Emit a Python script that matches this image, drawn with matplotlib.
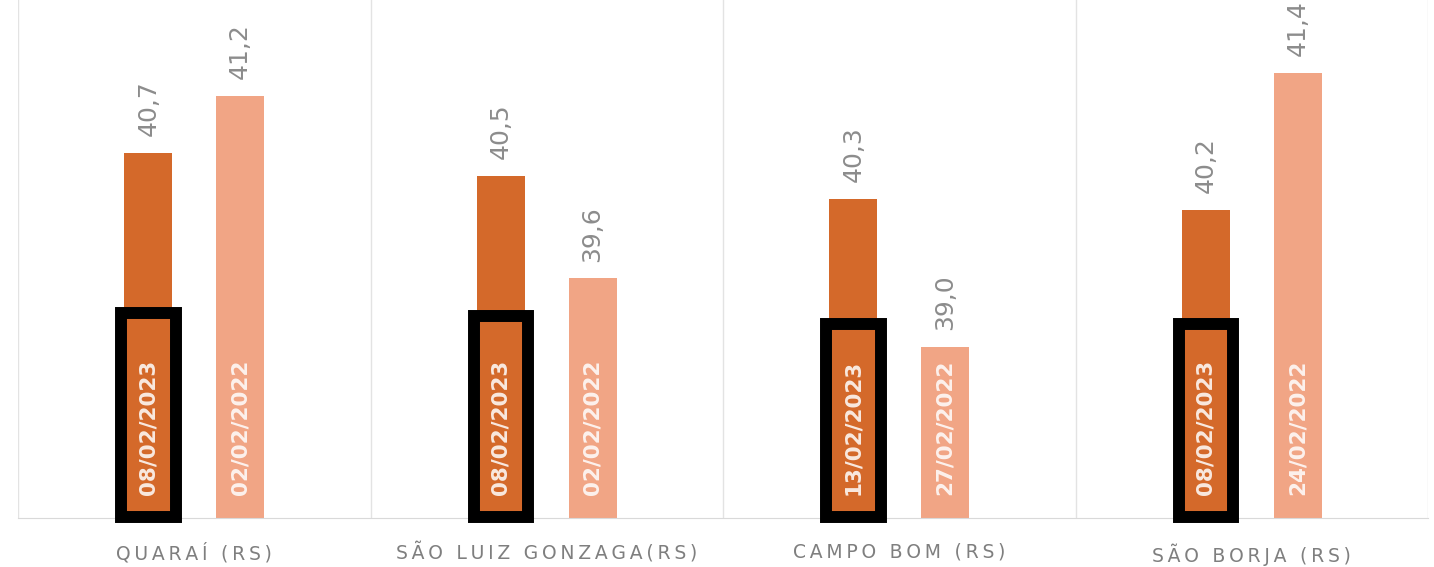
import matplotlib.pyplot as plt
from matplotlib.patches import Rectangle
import numpy as np

# dados
cidades = ['QUARAÍ (RS)', 'SÃO LUIZ GONZAGA(RS)', 'CAMPO BOM (RS)', 'SÃO BORJA (RS)']
fev_2023 = [40.7, 40.5, 40.3, 40.2]
recorde = [41.2, 39.6, 39.0, 41.4]
datas_2023 = ['08/02/2023', '08/02/2023', '13/02/2023', '08/02/2023']
datas_recorde = ['02/02/2022', '02/02/2022', '27/02/2022', '24/02/2022']
topo_destaque = [39.3, 39.27, 39.2, 39.2]

cor1 = '#D4692A'
cor2 = '#F1A585'
cinza = '#8C8C8C'

fig = plt.figure(figsize=(14.34, 5.67), dpi=100)
ax = fig.add_axes([18/1434, 49/567, 1410/1434, 518/567])

x = np.arange(len(cidades))
w = 0.136
off = 0.130
b1 = ax.bar(x - off, np.array(fev_2023) - 37.5, w, bottom=37.5, color=cor1, label='Fevereiro/2023', zorder=2)
b2 = ax.bar(x + off, np.array(recorde) - 37.5, w, bottom=37.5, color=cor2, label='Fevereiro - Último recorde', zorder=2)

ax.set_xlim(-0.5, 3.5)
ax.set_ylim(37.5, 37.5 + 518/114.1)

for i in range(len(cidades)):
    for xx, v, d in [(x[i] - off, fev_2023[i], datas_2023[i]), (x[i] + off, recorde[i], datas_recorde[i])]:
        ax.annotate(f'{v:.1f}'.replace('.', ','), (xx, v), xytext=(0, 12), textcoords='offset points',
                    rotation=90, ha='center', va='bottom', fontsize=18, color=cinza)
        ax.text(xx, 37.7, d, rotation=90, ha='center', va='bottom', fontsize=15.5,
                fontweight='semibold', color='white', alpha=0.85, zorder=4)
    r = Rectangle((x[i] - off - 0.077, 37.51), 0.154, topo_destaque[i] - 37.51,
                  fill=False, edgecolor='black', linewidth=8.6, zorder=3, clip_on=False)
    ax.add_patch(r)

# separadores
for s in np.arange(-0.5, 4, 1):
    ax.axvline(s, color='#E3E3E3', lw=1, zorder=1)

for sp in ['top', 'left', 'right']:
    ax.spines[sp].set_visible(False)
ax.spines['bottom'].set_color('#D9D9D9')
ax.set_yticks([])
ax.set_xticks(x)
ax.set_xticklabels(['\u2009'.join(c) for c in cidades], fontsize=13.5, color='#7F7F7F')
ax.tick_params(axis='x', length=0, pad=18)

fig.legend(handles=[b1, b2], loc='lower center', bbox_to_anchor=(0.49, 1 - 9/567), ncol=2,
           frameon=False, fontsize=13, labelcolor=cinza, borderpad=0, handlelength=0.8,
           columnspacing=2)

fig.savefig('out.png', dpi=100)
